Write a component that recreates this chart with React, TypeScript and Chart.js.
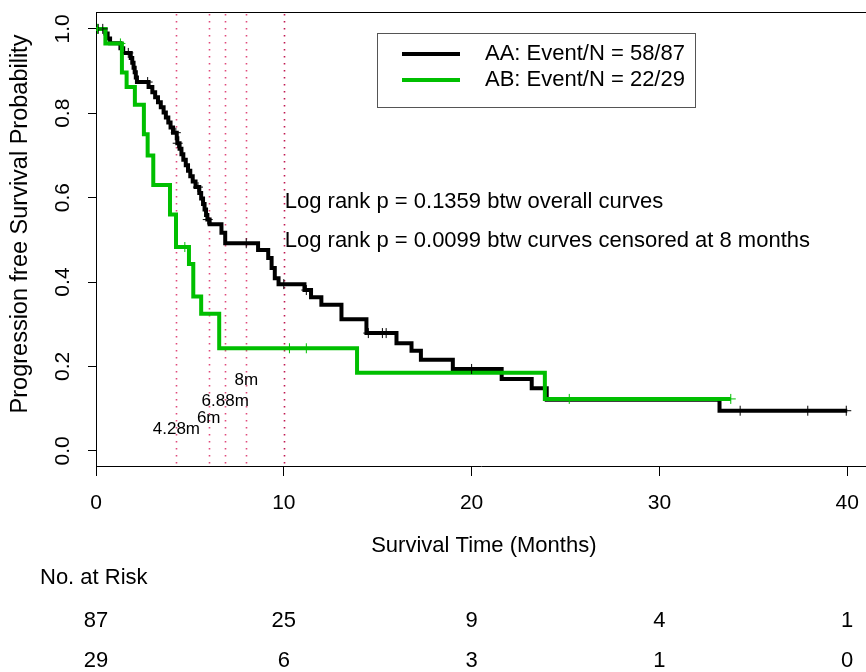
import React, { useEffect, useRef } from 'react';
import { Chart, registerables } from 'chart.js';

Chart.register(...registerables);

const FONT = '"Liberation Sans", Arial, Helvetica, sans-serif';
const GREEN = '#00bf00';

// Kaplan-Meier step curve for AA (time in months, survival after the step)
const aaTimes = [0, 0.5, 0.62, 0.75, 1.3, 1.45, 1.85, 1.93, 2.0, 2.06, 2.12, 2.18, 2.8, 3.0, 3.15, 3.3, 3.45, 3.6, 3.72, 3.85, 3.97, 4.1, 4.3, 4.33, 4.45, 4.55, 4.65, 4.78, 4.9, 5.02, 5.15, 5.3, 5.5, 5.6, 5.7, 5.78, 5.86, 5.93, 6.05, 6.68, 6.88, 8.63, 9.17, 9.35, 9.52, 9.72, 11.1, 11.45, 12.0, 13.07, 14.4, 16.0, 16.8, 17.3, 19.0, 21.6, 23.2, 24.0, 33.2, 40.0];
const aaSurv = [1.0, 0.989, 0.977, 0.966, 0.954, 0.943, 0.931, 0.92, 0.908, 0.897, 0.885, 0.874, 0.862, 0.85, 0.838, 0.826, 0.814, 0.802, 0.79, 0.778, 0.766, 0.754, 0.741, 0.729, 0.716, 0.703, 0.69, 0.677, 0.664, 0.651, 0.638, 0.625, 0.611, 0.598, 0.585, 0.572, 0.559, 0.548, 0.537, 0.517, 0.492, 0.476, 0.457, 0.433, 0.409, 0.395, 0.381, 0.364, 0.346, 0.312, 0.279, 0.255, 0.237, 0.216, 0.194, 0.17, 0.148, 0.121, 0.095, 0.095];
const aaCensorTimes = [0.12, 0.36, 1.72, 2.75, 4.25, 4.35, 5.43, 5.95, 8.0, 10.0, 11.2, 14.5, 15.25, 15.45, 20.0, 34.3, 37.9, 39.95];
const aaCensorSurv = [1.0, 1.0, 0.943, 0.874, 0.754, 0.729, 0.625, 0.548, 0.492, 0.395, 0.381, 0.279, 0.279, 0.279, 0.194, 0.095, 0.095, 0.095];

// Kaplan-Meier step curve for AB
const abTimes = [0, 0.5, 1.38, 1.63, 2.07, 2.55, 2.75, 3.05, 3.94, 4.26, 4.95, 5.18, 5.6, 6.56, 13.9, 23.9, 33.8];
const abSurv = [1.0, 0.9655, 0.8966, 0.862, 0.82, 0.75, 0.7, 0.63, 0.56, 0.483, 0.443, 0.366, 0.325, 0.243, 0.185, 0.123, 0.123];
const abCensorTimes = [0.08, 1.3, 4.73, 10.3, 11.2, 25.2, 33.8];
const abCensorSurv = [1.0, 0.9655, 0.483, 0.243, 0.243, 0.123, 0.123];

const xTicks = [0, 10, 20, 30, 40];
const yTicks = [0, 0.2, 0.4, 0.6, 0.8, 1.0];

const cutoffMonths = [4.28, 6, 6.88, 8, 10];
const cutoffLabels = ['4.28m', '6m', '6.88m', '8m', ''];
const cutoffLabelY = [0.05, 0.078, 0.117, 0.166, 0];

const riskTimes = [0, 10, 20, 30, 40];
const riskAA = [87, 25, 9, 4, 1];
const riskAB = [29, 6, 3, 1, 0];

const legendLabels = ['AA: Event/N = 58/87', 'AB: Event/N = 22/29'];
const legendColors = ['#000000', GREEN];

const logRankLines = ['Log rank p = 0.1359 btw overall curves', 'Log rank p = 0.0099 btw curves censored at 8 months'];
const logRankY = [0.59, 0.497];
const logRankX = 10.05;

const xTitle = 'Survival Time (Months)';
const yTitle = 'Progression free Survival Probability';

const decorPlugin = {
  id: 'decor',
  beforeDatasetsDraw(chart: any) {
    const { ctx, chartArea, scales } = chart;
    const x = scales.x;
    ctx.save();
    ctx.strokeStyle = '#000';
    ctx.lineWidth = 1;
    ctx.beginPath();
    ctx.moveTo(chartArea.left, chartArea.top + 0.5);
    ctx.lineTo(chartArea.right, chartArea.top + 0.5);
    ctx.stroke();
    cutoffMonths.forEach((m, i) => {
      const px = Math.round(x.getPixelForValue(m)) + 0.5;
      ctx.setLineDash([1.5, 5.5]);
      ctx.lineWidth = 1.6;
      ctx.strokeStyle = i === cutoffMonths.length - 1 ? '#c01850' : '#e04a7c';
      ctx.beginPath();
      ctx.moveTo(px, chartArea.top + 2);
      ctx.lineTo(px, chartArea.bottom);
      ctx.stroke();
    });
    ctx.restore();
  },
  afterDraw(chart: any) {
    const { ctx, chartArea, scales } = chart;
    const x = scales.x;
    const y = scales.y;
    ctx.save();
    ctx.fillStyle = '#000';
    ctx.font = `21px ${FONT}`;
    ctx.textAlign = 'center';
    ctx.textBaseline = 'middle';
    // x tick labels
    xTicks.forEach((v) => ctx.fillText(String(v), x.getPixelForValue(v), 503));
    // y tick labels (rotated)
    yTicks.forEach((v) => {
      ctx.save();
      ctx.translate(63, y.getPixelForValue(v));
      ctx.rotate(-Math.PI / 2);
      ctx.fillText(v.toFixed(1), 0, 0);
      ctx.restore();
    });
    // axis titles
    ctx.font = `22px ${FONT}`;
    ctx.fillText(xTitle, x.getPixelForValue(20.65), 546);
    ctx.save();
    ctx.font = `23.5px ${FONT}`;
    ctx.translate(21, 224);
    ctx.rotate(-Math.PI / 2);
    ctx.fillText(yTitle, 0, 0);
    ctx.restore();
    // risk table
    ctx.textAlign = 'left';
    ctx.fillText('No. at Risk', 40, 578);
    ctx.textAlign = 'center';
    riskTimes.forEach((t, i) => {
      ctx.fillText(String(riskAA[i]), x.getPixelForValue(t), 621);
      ctx.fillText(String(riskAB[i]), x.getPixelForValue(t), 661);
    });
    // log-rank notes
    ctx.textAlign = 'left';
    logRankLines.forEach((s, i) => ctx.fillText(s, x.getPixelForValue(logRankX), y.getPixelForValue(logRankY[i])));
    // cutoff labels
    ctx.font = `17px ${FONT}`;
    ctx.textAlign = 'center';
    cutoffMonths.forEach((m, i) => {
      if (cutoffLabels[i]) ctx.fillText(cutoffLabels[i], x.getPixelForValue(m), y.getPixelForValue(cutoffLabelY[i]));
    });
    // legend
    ctx.strokeStyle = '#555';
    ctx.lineWidth = 1;
    ctx.setLineDash([]);
    ctx.strokeRect(377.5, 33.5, 318, 74);
    ctx.font = `22px ${FONT}`;
    ctx.textAlign = 'left';
    legendLabels.forEach((s, i) => {
      const ly = 54 + i * 26;
      ctx.strokeStyle = legendColors[i];
      ctx.lineWidth = 4;
      ctx.beginPath();
      ctx.moveTo(402, ly);
      ctx.lineTo(460, ly);
      ctx.stroke();
      ctx.fillStyle = '#000';
      ctx.fillText(s, 485, ly);
    });
    ctx.restore();
  },
};

export default function App() {
  const canvasRef = useRef<HTMLCanvasElement | null>(null);

  useEffect(() => {
    const canvas = canvasRef.current;
    if (!canvas) return;
    const toPts = (ts: number[], ss: number[]) => ts.map((t, i) => ({ x: t, y: ss[i] }));
    const chart = new Chart(canvas, {
      type: 'line',
      data: {
        datasets: [
          {
            label: 'AB censored',
            data: toPts(abCensorTimes, abCensorSurv),
            showLine: false,
            pointStyle: 'cross',
            pointRadius: 5,
            pointBorderWidth: 1,
            borderColor: GREEN,
            backgroundColor: GREEN,
            order: -2,
          },
          {
            label: 'AA censored',
            data: toPts(aaCensorTimes, aaCensorSurv),
            showLine: false,
            pointStyle: 'cross',
            pointRadius: 5,
            pointBorderWidth: 1,
            borderColor: '#000',
            backgroundColor: '#000',
            order: -1,
          },
          {
            label: 'AB',
            data: toPts(abTimes, abSurv),
            borderColor: GREEN,
            borderWidth: 4,
            stepped: 'before',
            pointRadius: 0,
            fill: false,
            borderJoinStyle: 'miter',
            borderCapStyle: 'butt',
            order: 1,
          },
          {
            label: 'AA',
            data: toPts(aaTimes, aaSurv),
            borderColor: '#000',
            borderWidth: 4,
            stepped: 'before',
            pointRadius: 0,
            fill: false,
            borderJoinStyle: 'miter',
            borderCapStyle: 'butt',
            order: 2,
          },
        ] as any,
      },
      options: {
        responsive: false,
        animation: false,
        events: [],
        layout: { autoPadding: false, padding: { top: 12, left: 0, right: 0, bottom: 0 } },
        plugins: {
          legend: { display: false },
          tooltip: { enabled: false },
          title: { display: false },
        },
        scales: {
          x: {
            type: 'linear',
            min: 0,
            max: 41.0,
            afterBuildTicks: (a: any) => {
              a.ticks = xTicks.map((v) => ({ value: v }));
            },
            afterFit: (s: any) => {
              s.height = 206;
            },
            ticks: { display: false },
            grid: { display: true, drawOnChartArea: false, drawTicks: true, tickLength: 10, color: '#000', lineWidth: 1 },
            border: { display: true, color: '#000', width: 1 },
          },
          y: {
            type: 'linear',
            min: -0.036,
            max: 1.04,
            afterBuildTicks: (a: any) => {
              a.ticks = yTicks.map((v) => ({ value: v }));
            },
            afterFit: (s: any) => {
              s.width = 96;
            },
            ticks: { display: false },
            grid: { display: true, drawOnChartArea: false, drawTicks: true, tickLength: 8, color: '#000', lineWidth: 1 },
            border: { display: true, color: '#000', width: 1 },
          },
        },
      } as any,
      plugins: [decorPlugin],
    });
    return () => chart.destroy();
  }, []);

  return (
    <div style={{ position: 'absolute', left: 0, top: 0, width: 866, height: 672, overflow: 'hidden', background: '#fff' }}>
      <canvas ref={canvasRef} width={866} height={672} style={{ display: 'block' }} />
    </div>
  );
}
